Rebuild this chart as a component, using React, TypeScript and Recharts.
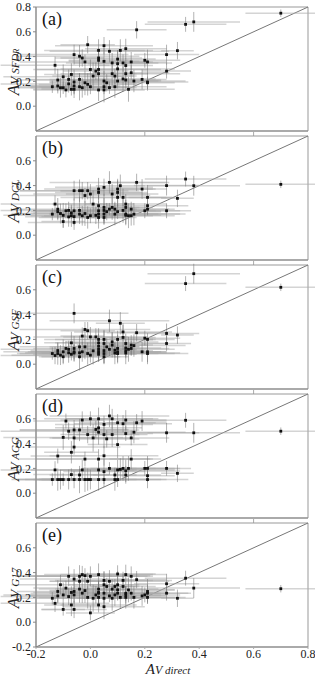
import React from "react";
import { ScatterChart, Scatter, XAxis, YAxis, ErrorBar, ReferenceLine, ReferenceArea } from "recharts";

const serif = "Liberation Serif, Times New Roman, serif";

// AV direct (shared x for every panel) and its uncertainty
const avDirect = [
  -0.14, -0.13, -0.12, -0.12, -0.11, -0.1, -0.1, -0.09, -0.08, -0.08,
  -0.07, -0.07, -0.06, -0.06, -0.06, -0.06, -0.04, -0.04, -0.04, -0.03,
  -0.03, -0.02, -0.02, -0.01, -0.01, 0.0, 0.0, 0.01, 0.02, 0.03,
  0.03, 0.03, 0.03, 0.03, 0.03, 0.05, 0.05, 0.05, 0.05, 0.05,
  0.06, 0.07, 0.07, 0.08, 0.08, 0.09, 0.09, 0.1, 0.1, 0.1,
  0.1, 0.11, 0.12, 0.12, 0.13, 0.13, 0.13, 0.13, 0.14, 0.15,
  0.15, 0.16, 0.17, 0.19, 0.2, 0.21, 0.21, 0.21, 0.28, 0.28,
  0.32, 0.35, 0.38, 0.7,
];
const avDirectErr = [
  0.12, 0.2, 0.15, 0.1, 0.18, 0.08, 0.22, 0.12, 0.16, 0.25,
  0.1, 0.14, 0.2, 0.09, 0.17, 0.12, 0.22, 0.11, 0.15, 0.08,
  0.19, 0.24, 0.13, 0.1, 0.18, 0.21, 0.09, 0.15, 0.12, 0.2,
  0.16, 0.11, 0.23, 0.14, 0.1, 0.18, 0.13, 0.2, 0.09, 0.15,
  0.12, 0.22, 0.1, 0.17, 0.13, 0.08, 0.19, 0.14, 0.11, 0.21,
  0.16, 0.09, 0.18, 0.12, 0.15, 0.1, 0.2, 0.13, 0.17, 0.08,
  0.14, 0.19, 0.11, 0.09, 0.13, 0.07, 0.15, 0.1, 0.12, 0.09,
  0.06, 0.15, 0.17, 0.13,
];
const modelErr = [
  0.05, 0.07, 0.09, 0.06, 0.08, 0.05, 0.1, 0.06, 0.08, 0.07,
  0.09, 0.05, 0.08, 0.1, 0.06, 0.07, 0.09, 0.05, 0.11, 0.07,
  0.08, 0.06, 0.1, 0.07, 0.09, 0.08, 0.06, 0.11, 0.07, 0.09,
  0.05, 0.1, 0.08, 0.06, 0.09, 0.07, 0.11, 0.08, 0.06, 0.1,
  0.07, 0.09, 0.05, 0.08, 0.1, 0.06, 0.09, 0.07, 0.11, 0.08,
  0.06, 0.09, 0.07, 0.1, 0.08, 0.06, 0.09, 0.07, 0.1, 0.08,
  0.06, 0.09, 0.07, 0.08, 0.06, 0.1, 0.07, 0.05, 0.08, 0.06,
  0.07, 0.06, 0.08, 0.03,
];

const avSFDR = [
  0.157, 0.33, 0.211, 0.163, 0.149, 0.149, 0.237, 0.131, 0.216, 0.18,
  0.256, 0.136, 0.416, 0.195, 0.163, 0.136, 0.403, 0.216, 0.157, 0.389,
  0.149, 0.357, 0.189, 0.496, 0.176, 0.296, 0.157, 0.243, 0.283, 0.45,
  0.389, 0.37, 0.296, 0.262, 0.131, 0.488, 0.362, 0.203, 0.157, 0.131,
  0.189, 0.443, 0.15, 0.349, 0.262, 0.243, 0.157, 0.38, 0.343, 0.301,
  0.203, 0.45, 0.349, 0.22, 0.464, 0.328, 0.262, 0.211, 0.136, 0.357,
  0.27, 0.203, 0.616, 0.216, 0.37, 0.357, 0.195, 0.189, 0.416, 0.283,
  0.448, 0.66, 0.68, 0.75,
];
const avDCL = [
  0.17, 0.251, 0.21, 0.19, 0.175, 0.11, 0.16, 0.197, 0.148, 0.2,
  0.157, 0.18, 0.359, 0.197, 0.103, 0.15, 0.359, 0.17, 0.2, 0.359,
  0.157, 0.32, 0.175, 0.359, 0.143, 0.332, 0.157, 0.251, 0.16, 0.372,
  0.345, 0.238, 0.197, 0.17, 0.143, 0.386, 0.224, 0.17, 0.143, 0.2,
  0.19, 0.426, 0.21, 0.332, 0.224, 0.21, 0.17, 0.372, 0.345, 0.305,
  0.19, 0.399, 0.305, 0.2, 0.251, 0.224, 0.17, 0.16, 0.157, 0.157,
  0.21, 0.17, 0.426, 0.372, 0.197, 0.305, 0.238, 0.21, 0.4, 0.197,
  0.297, 0.453, 0.399, 0.41,
];
const avGSF = [
  0.086, 0.07, 0.086, 0.11, 0.073, 0.06, 0.1, 0.127, 0.092, 0.12,
  0.172, 0.08, 0.41, 0.127, 0.1, 0.09, 0.14, 0.092, 0.06, 0.227,
  0.1, 0.28, 0.14, 0.27, 0.086, 0.22, 0.073, 0.108, 0.22, 0.2,
  0.172, 0.145, 0.1, 0.08, 0.12, 0.2, 0.167, 0.086, 0.06, 0.11,
  0.14, 0.35, 0.12, 0.18, 0.154, 0.113, 0.09, 0.2, 0.127, 0.086,
  0.1, 0.33, 0.26, 0.216, 0.167, 0.108, 0.09, 0.13, 0.12, 0.154,
  0.127, 0.15, 0.254, 0.1, 0.21, 0.1, 0.086, 0.2, 0.248, 0.167,
  0.235, 0.65, 0.73, 0.62,
];
const avAGG = [
  0.11, 0.188, 0.11, 0.3, 0.11, 0.11, 0.45, 0.582, 0.11, 0.5,
  0.33, 0.15, 0.51, 0.446, 0.372, 0.11, 0.51, 0.147, 0.11, 0.59,
  0.188, 0.275, 0.11, 0.473, 0.11, 0.11, 0.6, 0.446, 0.514, 0.6,
  0.527, 0.492, 0.275, 0.188, 0.11, 0.555, 0.473, 0.302, 0.11, 0.174,
  0.438, 0.623, 0.2, 0.6, 0.473, 0.147, 0.11, 0.568, 0.392, 0.188,
  0.11, 0.192, 0.56, 0.2, 0.59, 0.481, 0.18, 0.147, 0.2, 0.275,
  0.446, 0.492, 0.568, 0.582, 0.2, 0.2, 0.11, 0.141, 0.487, 0.2,
  0.16, 0.588, 0.487, 0.5,
];
const avG17 = [
  0.193, 0.152, 0.248, 0.212, 0.302, 0.103, 0.22, 0.275, 0.37, 0.207,
  0.139, 0.24, 0.348, 0.248, 0.22, 0.103, 0.37, 0.33, 0.267, 0.384,
  0.234, 0.375, 0.255, 0.33, 0.2, 0.37, 0.075, 0.193, 0.22, 0.384,
  0.267, 0.234, 0.2, 0.139, 0.24, 0.337, 0.302, 0.234, 0.193, 0.125,
  0.288, 0.33, 0.212, 0.267, 0.193, 0.288, 0.22, 0.389, 0.302, 0.261,
  0.234, 0.2, 0.337, 0.288, 0.384, 0.234, 0.2, 0.22, 0.26, 0.37,
  0.234, 0.2, 0.343, 0.212, 0.22, 0.248, 0.234, 0.2, 0.31, 0.234,
  0.193, 0.355, 0.275, 0.27,
];

const xTicks = [-0.2, 0, 0.2, 0.4, 0.6, 0.8];
const xTicksInner = [0.2, 0.6];
const yTicksTop = [0, 0.2, 0.4, 0.6, 0.8];
const yTicksMid = [0, 0.2, 0.4, 0.6];
const yTicksBottom = [-0.2, 0, 0.2, 0.4, 0.6];

const panels = [
  { tag: "(a)", sub: "SFD", sub2: "R", values: avSFDR, ticks: yTicksTop, top: 7 },
  { tag: "(b)", sub: "DCL", sub2: "", values: avDCL, ticks: yTicksMid, top: 136 },
  { tag: "(c)", sub: "GSF", sub2: "", values: avGSF, ticks: yTicksMid, top: 265 },
  { tag: "(d)", sub: "AGG", sub2: "", values: avAGG, ticks: yTicksMid, top: 394 },
  { tag: "(e)", sub: "G17", sub2: "", values: avG17, ticks: yTicksBottom, top: 523 },
];

const PLOT_H = 124;
const PAD = 8;
const fmt = (v: number) => v.toFixed(1);
const tickStyle = { fontSize: 12, fill: "#222", fontFamily: serif };

function Dot(props: any) {
  const { cx, cy } = props;
  if (cx == null || cy == null) return null;
  return <rect x={cx - 1.4} y={cy - 1.4} width={2.8} height={2.8} fill="#111" />;
}

function Panel({ values, ticks, top, last }: { values: number[]; ticks: number[]; top: number; last: boolean }) {
  const data = avDirect.map((x, i) => ({ x, y: values[i], ex: avDirectErr[i], ey: modelErr[i] }));
  const xAxisH = last ? 22 : 5;
  return (
    <div style={{ position: "absolute", left: 0, top: top - PAD }}>
      <ScatterChart width={315} height={PAD + PLOT_H + xAxisH} margin={{ top: PAD, right: 7, bottom: 0, left: 0 }}>
        <XAxis
          type="number"
          dataKey="x"
          domain={[-0.2, 0.8]}
          ticks={last ? xTicks : xTicksInner}
          interval={0}
          allowDataOverflow
          height={xAxisH}
          tickSize={last ? 2 : 5}
          tickMargin={0}
          tickFormatter={last ? fmt : () => ""}
          tick={tickStyle}
          axisLine={{ stroke: "#888" }}
          tickLine={{ stroke: "#aaa" }}
        />
        <YAxis
          type="number"
          dataKey="y"
          domain={[-0.2, 0.8]}
          ticks={ticks}
          interval={0}
          allowDataOverflow
          width={36}
          tickSize={3}
          tickMargin={2}
          tickFormatter={fmt}
          tick={tickStyle}
          axisLine={{ stroke: "#888" }}
          tickLine={{ stroke: "#888" }}
        />
        <ReferenceArea x1={-0.2} x2={0.8} y1={-0.2} y2={0.8} fill="none" stroke="#999" />
        <ReferenceLine segment={[{ x: -0.2, y: -0.2 }, { x: 0.8, y: 0.8 }]} stroke="#777" strokeWidth={1} />
        <Scatter data={data} shape={Dot} isAnimationActive={false}>
          <ErrorBar dataKey="ex" direction="x" width={0} stroke="#aaa" strokeWidth={1.5} strokeOpacity={0.5} isAnimationActive={false} />
          <ErrorBar dataKey="ey" direction="y" width={0} stroke="#777" strokeWidth={0.8} strokeOpacity={0.7} isAnimationActive={false} />
        </Scatter>
      </ScatterChart>
    </div>
  );
}

export default function App() {
  return (
    <div style={{ position: "absolute", left: 0, top: 0, width: 315, height: 676, background: "#fff", fontFamily: serif }}>
      {panels.map((p, i) => (
        <Panel key={p.tag} values={p.values} ticks={p.ticks} top={p.top} last={i === panels.length - 1} />
      ))}
      <svg width={315} height={676} style={{ position: "absolute", left: 0, top: 0, pointerEvents: "none" }}>
        {panels.map((p) => {
          const cy = p.top + PLOT_H / 2 + 3;
          return (
            <g key={p.tag} fontFamily={serif}>
              <text x={42} y={p.top + 18} fontSize={18} fill="#111">{p.tag}</text>
              <text x={19} y={cy} transform={`rotate(-90 19 ${cy})`} textAnchor="middle" fontStyle="italic" fill="#222">
                <tspan fontSize={17}>A</tspan>
                <tspan fontSize={13}>V </tspan>
                <tspan fontSize={11}>{p.sub}</tspan>
                {p.sub2 && <tspan fontSize={8}>{p.sub2}</tspan>}
              </text>
            </g>
          );
        })}
        <text x={168} y={674} textAnchor="middle" fontFamily={serif} fontStyle="italic" fill="#222">
          <tspan fontSize={15}>A</tspan>
          <tspan fontSize={12}>V </tspan>
          <tspan fontSize={11}>direct</tspan>
        </text>
      </svg>
    </div>
  );
}
